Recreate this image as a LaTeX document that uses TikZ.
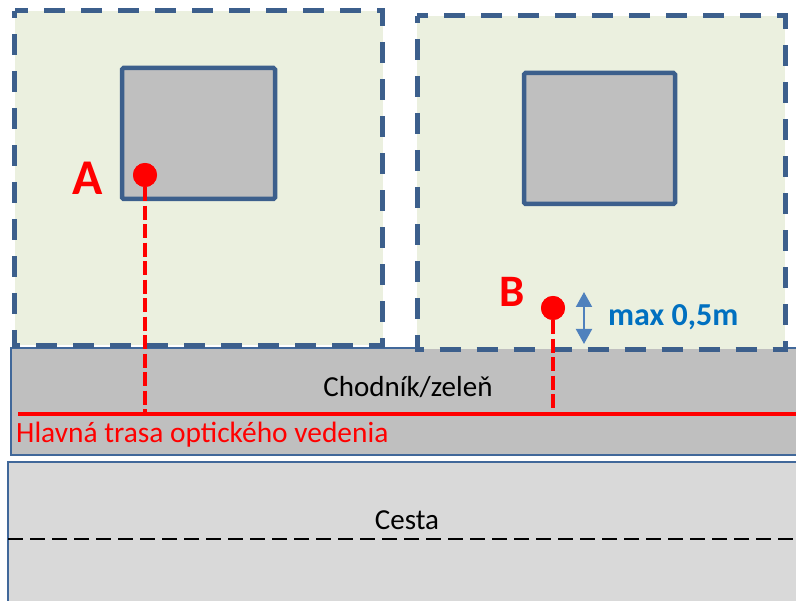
\documentclass[tikz,border=0pt]{standalone}
\usepackage{fontspec}
\setmainfont{Carlito}
\usetikzlibrary{arrows.meta}
\definecolor{plotfill}{HTML}{EBF0DF}
\definecolor{plotline}{HTML}{3C5F8C}
\definecolor{bldfill}{HTML}{BFBFBF}
\definecolor{walkfill}{HTML}{BFBFBF}
\definecolor{roadfill}{HTML}{D9D9D9}
\definecolor{edgeblue}{HTML}{41689A}
\definecolor{redc}{HTML}{FF0000}
\definecolor{bluetext}{HTML}{0070C0}
\definecolor{arrowc}{HTML}{4F81BD}
\tikzset{
  plotbox/.style={fill=plotfill, draw=plotline, line width=5pt, dash pattern=on 21pt off 16pt, dash phase=14pt},
  building/.style={fill=bldfill, draw=plotline, line width=4.5pt, rounded corners=1.5pt},
  stripbox/.style={draw=edgeblue, line width=1.5pt},
  reddash/.style={draw=redc, line width=4.5pt, dash pattern=on 14pt off 4.5pt},
  dotnode/.style={circle, fill=redc, minimum size=24pt, inner sep=0pt},
  biglabel/.style={text=redc, font=\bfseries\fontsize{50}{50}\selectfont},
  txt/.style={font=\fontsize{29}{29}\selectfont, inner sep=0pt}
}
\begin{document}
\begin{tikzpicture}[x=1pt,y=-1pt]
\useasboundingbox (0,0) rectangle (796,601);
\clip (0,0) rectangle (796,601);
\fill[white] (0,0) rectangle (796,601);
% road
\draw[stripbox, fill=roadfill] (8,462) rectangle (810,620);
\coordinate (laneL) at (8,539);
\coordinate (laneR) at (800,539);
\draw[black, line width=1.7pt, dash pattern=on 15pt off 7pt] (laneL) -- (laneR);
\node[txt] (cesta) at (407,520) {Cesta};
% sidewalk
\draw[stripbox, fill=walkfill] (11,348) rectangle (810,455);
\node[txt] (chodnik) at (408,387) {Chodník/zeleň};
% plots
\draw[plotbox] (14.5,11) rectangle (382.5,345.5);
\draw[plotbox] (417,16) rectangle (785,349.5);
% buildings
\draw[building] (122,68) rectangle (275,199);
\draw[building] (524,73) rectangle (675,204);
% main route
\coordinate (routeL) at (18,414);
\coordinate (routeR) at (800,414);
\node[anchor=base west, text=redc, font=\fontsize{29.4}{29.4}\selectfont, inner sep=0pt] (route) at (16,443) {Hlavná trasa optického vedenia};
% connection points
\node[dotnode] (dotA) at (145,175) {};
\node[dotnode] (dotB) at (553,308) {};
\draw[reddash] (dotA.south) -- (dotA.south |- routeL);
\draw[reddash] (dotB.south) -- (dotB.south |- routeL);
\draw[redc, line width=4pt] (routeL) -- (routeR);
\node[dotnode] at (dotA) {};
\node[dotnode] at (dotB) {};
\node[biglabel] (labA) at (88,178) {A};
\node[biglabel, font=\bfseries\fontsize{45}{45}\selectfont] (labB) at (512,292) {B};
% max 0,5m
\coordinate (arTop) at (584,292);
\coordinate (arBot) at (584,344);
\draw[arrowc, line width=2pt, {Triangle[length=15pt,width=16pt]}-{Triangle[length=15pt,width=16pt]}] (arTop) -- (arBot);
\node[anchor=west, text=bluetext, font=\bfseries\fontsize{32}{32}\selectfont, inner sep=0pt] (maxlbl) at (608,317) {max 0,5m};
\end{tikzpicture}
\end{document}
